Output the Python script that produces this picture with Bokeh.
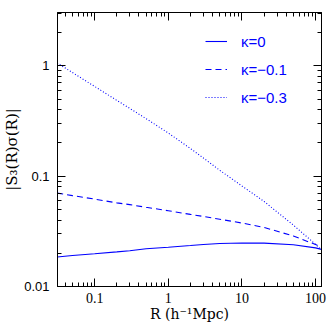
from bokeh.plotting import figure
from bokeh.models import LogAxis, FixedTicker, Legend, LegendItem, Range1d, AllLabels
from bokeh.embed import file_html
from bokeh.resources import INLINE

# ---- data ----
R = [0.031, 0.05, 0.1, 0.2, 0.3, 0.5, 1, 2, 3, 5, 10, 20, 50, 100, 120]
kappa_0 = [0.0185, 0.0191, 0.0198, 0.0206, 0.0211, 0.0220, 0.0227, 0.0235,
           0.0240, 0.0245, 0.0248, 0.0247, 0.0239, 0.0224, 0.0217]
kappa_m01 = [0.0702, 0.0666, 0.0619, 0.0573, 0.0552, 0.0522, 0.0486, 0.0450,
             0.0431, 0.0407, 0.0376, 0.0343, 0.0287, 0.0240, 0.0228]
kappa_m03 = [1.06, 0.868, 0.650, 0.486, 0.411, 0.332, 0.246, 0.178,
             0.146, 0.113, 0.0815, 0.059, 0.036, 0.0241, 0.0215]
series_labels = ["κ=0", "κ=−0.1", "κ=−0.3"]

x_major = [0.1, 1, 10, 100]
x_major_labels = ["0.1", "1", "10", "100"]
y_major = [0.01, 0.1, 1]
y_major_labels = ["0.01", "0.1", "1"]
x_title = "R (h⁻¹Mpc)"
y_title = "|S₃(R)σ(R)|"
x_lim = (0.0313, 120.5)
y_lim = (0.01, 3.04)

x_minor = [k * 10.0 ** e for e in range(-2, 3) for k in range(2, 10)]
y_minor = [k * 10.0 ** e for e in range(-2, 1) for k in range(2, 10)]

p = figure(width=330, height=330, x_axis_type="log", y_axis_type="log",
           x_range=Range1d(*x_lim), y_range=Range1d(*y_lim),
           output_backend="svg", toolbar_location=None,
           min_border_left=56, min_border_right=9,
           min_border_top=12, min_border_bottom=44)
p.grid.visible = False
p.outline_line_color = "black"
p.background_fill_color = "white"
p.border_fill_color = "white"


def style_axis(ax, major, minor, labels=None):
    ax.ticker = FixedTicker(ticks=major, minor_ticks=minor)
    ax.major_tick_in = 8
    ax.major_tick_out = 0
    ax.minor_tick_in = 4
    ax.minor_tick_out = 0
    ax.axis_line_color = "black"
    ax.major_tick_line_color = "black"
    ax.minor_tick_line_color = "black"
    ax.axis_line_width = 1
    ax.major_label_policy = AllLabels()
    if labels is None:
        ax.major_label_text_font_size = "0px"
        ax.major_label_standoff = 0
        ax.major_label_overrides = {float(v): "" for v in major}
    else:
        ax.major_label_overrides = {float(v): s for v, s in zip(major, labels)}
        ax.major_label_standoff = 8
        ax.major_label_text_color = "black"


xa = p.xaxis[0]
style_axis(xa, x_major, x_minor, x_major_labels)
xa.major_label_text_font = "Liberation Serif"
xa.major_label_text_font_size = "14px"
xa.major_label_standoff = 6
xa.axis_label = x_title
xa.axis_label_text_font = "DejaVu Serif"
xa.axis_label_text_font_size = "14px"
xa.axis_label_text_font_style = "normal"
xa.axis_label_text_color = "black"
xa.axis_label_standoff = 0

ya = p.yaxis[0]
style_axis(ya, y_major, y_minor, y_major_labels)
ya.major_label_text_font = "Liberation Sans"
ya.major_label_text_font_size = "13px"
ya.axis_label = y_title
ya.axis_label_text_font = "DejaVu Serif"
ya.axis_label_text_font_size = "15px"
ya.axis_label_text_font_style = "normal"
ya.axis_label_text_color = "black"
ya.axis_label_standoff = 0

top = LogAxis()
style_axis(top, x_major, x_minor)
p.add_layout(top, "above")
right = LogAxis()
style_axis(right, y_major, y_minor)
p.add_layout(right, "right")

r0 = p.line(R, kappa_0, line_color="blue", line_width=1.1)
r1 = p.line(R, kappa_m01, line_color="blue", line_width=1.1, line_dash="6 4")
r2 = p.line(R, kappa_m03, line_color="blue", line_width=1.1, line_dash="1 2")

legend = Legend(items=[LegendItem(label=lab, renderers=[r])
                       for lab, r in zip(series_labels, [r0, r1, r2])],
                location=(148, 179), glyph_width=22, glyph_height=20,
                label_height=20, label_standoff=14, spacing=8,
                padding=0, margin=0, border_line_alpha=0,
                background_fill_alpha=0,
                label_text_color="blue", label_text_font="Liberation Sans",
                label_text_font_size="15px")
p.add_layout(legend)

open("out.html", "w").write(file_html(p, INLINE))
